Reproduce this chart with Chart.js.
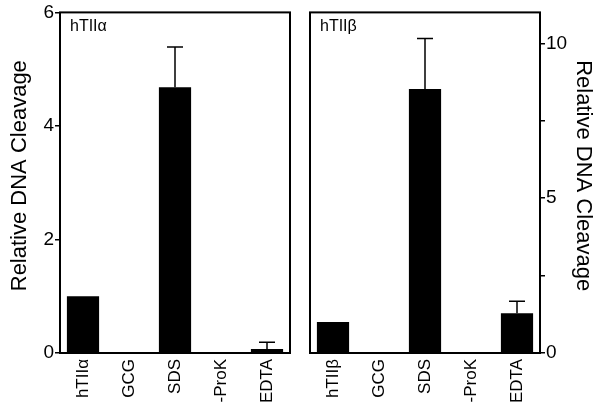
<!DOCTYPE html>
<html>
<head>
<meta charset="utf-8">
<script src="https://cdn.jsdelivr.net/npm/chart.js@4/dist/chart.umd.min.js"></script>
<style>
  html, body { margin: 0; padding: 0; background: #fff; }
  #wrap { position: relative; width: 603px; height: 415px; }
  canvas { position: absolute; top: 0; }
  #cA { left: 0; }
  #cB { left: 300px; }
</style>
</head>
<body>
<div id="wrap">
  <canvas id="cA" width="300" height="415"></canvas>
  <canvas id="cB" width="303" height="415"></canvas>
</div>
<script>
const categoriesA = ['hTIIα', 'GCG', 'SDS', '-ProK', 'EDTA'];
const valuesA = [1.0, 0, 4.68, 0, 0.07];
const errorsA = [0, 0, 0.71, 0, 0.12];

const categoriesB = ['hTIIβ', 'GCG', 'SDS', '-ProK', 'EDTA'];
const valuesB = [1.0, 0, 8.53, 0, 1.28];
const errorsB = [0, 0, 1.63, 0, 0.39];

const ticksA = [0, 2, 4, 6];
const ticksB = [0, 2.5, 5, 7.5, 10];
const labelledB = [0, 5, 10];

const axisTitle = 'Relative DNA Cleavage';

const FONT = "'Liberation Sans', Arial, Helvetica, sans-serif";

function errorBarPlugin(errors) {
  return {
    id: 'errbars',
    afterDatasetsDraw(chart) {
      const ctx = chart.ctx;
      const meta = chart.getDatasetMeta(0);
      const ys = chart.scales.y;
      const vals = chart.data.datasets[0].data;
      ctx.save();
      ctx.strokeStyle = '#000';
      ctx.lineWidth = 1.5;
      meta.data.forEach((bar, i) => {
        const e = errors[i];
        if (!e) return;
        const y0 = ys.getPixelForValue(vals[i]);
        const y1 = ys.getPixelForValue(vals[i] + e);
        ctx.beginPath();
        ctx.moveTo(bar.x, y0);
        ctx.lineTo(bar.x, y1);
        ctx.moveTo(bar.x - 8, y1);
        ctx.lineTo(bar.x + 8, y1);
        ctx.stroke();
      });
      ctx.restore();
    }
  };
}

function framePlugin(label, side) {
  return {
    id: 'frame',
    afterDraw(chart) {
      const a = chart.chartArea;
      const ctx = chart.ctx;
      ctx.save();
      ctx.strokeStyle = '#000';
      ctx.lineWidth = 2;
      ctx.strokeRect(a.left, a.top, a.right - a.left, a.bottom - a.top);
      ctx.fillStyle = '#000';
      ctx.font = '16px ' + FONT;
      ctx.textBaseline = 'middle';
      ctx.textAlign = 'left';
      ctx.fillText(label, a.left + 10, a.top + 14);
      // axis title
      ctx.font = '22px ' + FONT;
      ctx.textAlign = 'center';
      const cy = (a.top + a.bottom) / 2 - 7;
      if (side === 'left') {
        ctx.translate(20, cy);
        ctx.rotate(-Math.PI / 2);
      } else {
        ctx.translate(chart.width - 20, cy);
        ctx.rotate(Math.PI / 2);
      }
      ctx.fillText(axisTitle, 0, 0);
      ctx.restore();
    }
  };
}

function makeChart(id, cats, vals, errs, opts) {
  return new Chart(document.getElementById(id), {
    type: 'bar',
    data: {
      labels: cats,
      datasets: [{
        data: vals,
        backgroundColor: '#000',
        borderWidth: 0,
        barPercentage: 0.7,
        categoryPercentage: 1.0
      }]
    },
    options: {
      responsive: false,
      animation: false,
      devicePixelRatio: 1,
      layout: { padding: opts.padding },
      plugins: { legend: { display: false }, tooltip: { enabled: false } },
      scales: {
        x: {
          grid: { display: false, drawTicks: false },
          border: { display: false },
          ticks: {
            color: '#000',
            font: { family: FONT, size: 17 },
            minRotation: 90,
            maxRotation: 90,
            padding: 6,
            autoSkip: false
          },
          afterFit(s) { s.height = 62; }
        },
        y: {
          position: opts.position,
          min: 0,
          max: opts.max,
          afterBuildTicks(s) { s.ticks = opts.ticks.map(v => ({ value: v })); },
          grid: { display: true, drawOnChartArea: false, drawTicks: true, tickLength: 5, color: '#000', lineWidth: 1.5 },
          border: { display: false },
          ticks: {
            color: '#000',
            font: { family: FONT, size: 19 },
            padding: 1,
            callback(v) { return opts.labelled.includes(v) ? String(v) : ''; }
          },
          title: { display: false },
          afterFit(s) { s.width = opts.axisWidth; }
        }
      }
    },
    plugins: [errorBarPlugin(errs), framePlugin(opts.label, opts.position)]
  });
}

makeChart('cA', categoriesA, valuesA, errorsA, {
  position: 'left', max: 6, ticks: ticksA, labelled: ticksA,
  padding: { top: 11, right: 10, left: 0, bottom: 0 }, axisWidth: 60, label: 'hTIIα'
});
makeChart('cB', categoriesB, valuesB, errorsB, {
  position: 'right', max: 11, ticks: ticksB, labelled: labelledB,
  padding: { top: 11, right: 0, left: 10, bottom: 0 }, axisWidth: 63, label: 'hTIIβ'
});
</script>
</body>
</html>
